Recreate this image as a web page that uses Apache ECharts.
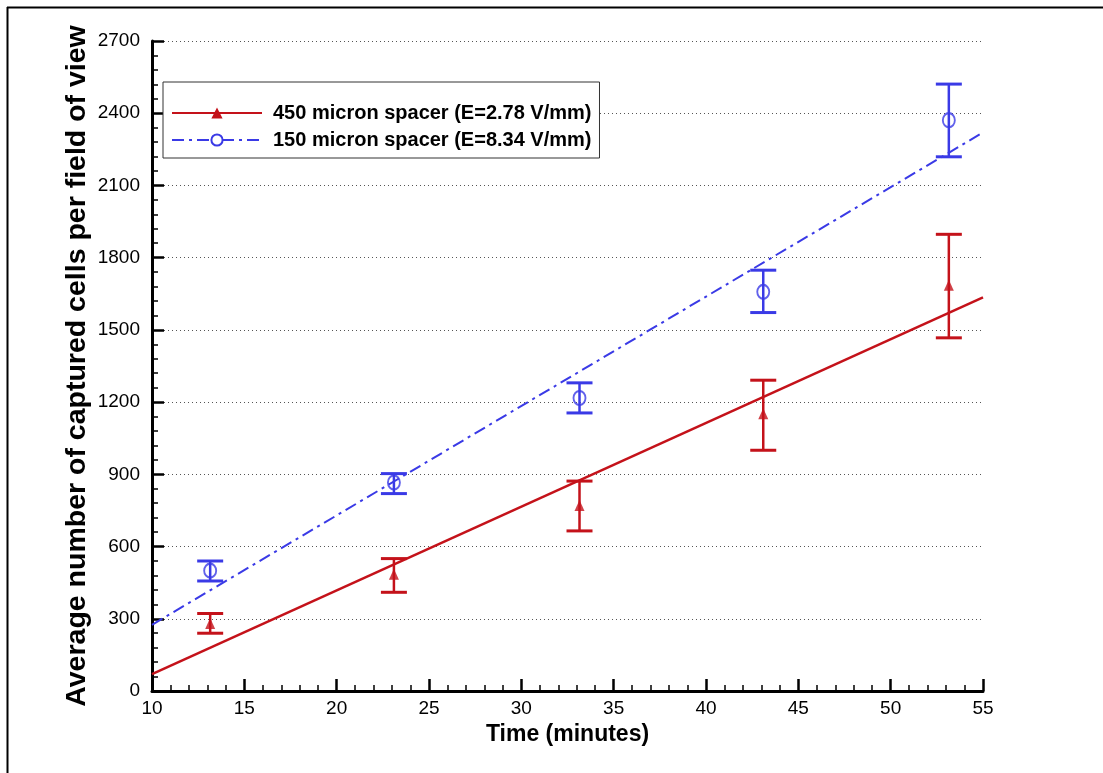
<!DOCTYPE html>
<html><head><meta charset="utf-8">
<script src="https://cdn.jsdelivr.net/npm/echarts@6/dist/echarts.min.js"></script>
<style>html,body{margin:0;padding:0;background:#fff}#c{width:1103px;height:773px}</style>
</head><body><div id="c"></div>
<script>
const times = [13.15, 23.1, 33.15, 43.1, 53.15];
const redMean = [280, 485, 771, 1152, 1685];
const redLow = [240, 410, 665, 1000, 1467];
const redHigh = [322, 550, 872, 1291, 1897];
const blueMean = [500, 866, 1217, 1658, 2371];
const blueLow = [457, 820, 1155, 1572, 2219];
const blueHigh = [540, 903, 1280, 1748, 2521];
const fitX = [10, 55];
const redFit = [70, 1635];
const blueFit = [275, 2320];
const redName = '450 micron spacer (E=2.78 V/mm)';
const blueName = '150 micron spacer (E=8.34 V/mm)';
const RED = '#c4121a';
const BLUE = '#3a3ae6';
const FONT = '"Liberation Sans", Arial, sans-serif';

function errRender(color) {
  return function (params, api) {
    const x = api.value(0);
    const p1 = api.coord([x, api.value(1)]);
    const p2 = api.coord([x, api.value(2)]);
    const w = 13;
    return {
      type: 'group',
      children: [
        { type: 'line', shape: { x1: p1[0], y1: p1[1], x2: p2[0], y2: p2[1] }, style: { stroke: color, lineWidth: 2.5 } },
        { type: 'line', shape: { x1: p1[0] - w, y1: p1[1], x2: p1[0] + w, y2: p1[1] }, style: { stroke: color, lineWidth: 3 } },
        { type: 'line', shape: { x1: p2[0] - w, y1: p2[1], x2: p2[0] + w, y2: p2[1] }, style: { stroke: color, lineWidth: 3 } }
      ]
    };
  };
}

const chart = echarts.init(document.getElementById('c'), null, { renderer: 'canvas' });
chart.setOption({
  backgroundColor: '#fff',
  animation: false,
  textStyle: { fontFamily: FONT },
  graphic: [
    { type: 'line', shape: { x1: 7.5, y1: 7, x2: 7.5, y2: 773 }, style: { stroke: '#000', lineWidth: 2 } },
    { type: 'line', shape: { x1: 7, y1: 7.5, x2: 1103, y2: 7.5 }, style: { stroke: '#000', lineWidth: 2 } }
  ],
  grid: { left: 152, right: 120, top: 41, bottom: 82, containLabel: false },
  legend: {
    orient: 'vertical', left: 163, top: 82,
    data: [redName, blueName],
    backgroundColor: '#fff',
    borderColor: '#333', borderWidth: 1,
    padding: [21, 8, 8, 8],
    itemWidth: 90, itemHeight: 14, itemGap: 7,
    textStyle: { fontFamily: FONT, fontSize: 20, fontWeight: 'bold', color: '#000', padding: [0, 0, 0, 6] }
  },
  xAxis: {
    type: 'value', min: 10, max: 55, interval: 5,
    name: 'Time (minutes)', nameLocation: 'middle', nameGap: 32, nameMoveOverlap: false,
    nameTextStyle: { fontFamily: FONT, fontSize: 23, fontWeight: 'bold', color: '#000' },
    axisLine: { lineStyle: { color: '#000', width: 3 } },
    axisTick: { inside: true, length: 12, lineStyle: { color: '#000', width: 2.5 } },
    minorTick: { show: true, splitNumber: 5, length: 6, lineStyle: { color: '#000', width: 1.5 } },
    axisLabel: { fontFamily: FONT, fontSize: 19, color: '#000', margin: 8 },
    splitLine: { show: false }
  },
  yAxis: {
    type: 'value', min: 0, max: 2700, interval: 300,
    name: 'Average number of captured cells per field of view', nameLocation: 'middle', nameGap: 60, nameMoveOverlap: false,
    nameTextStyle: { fontFamily: FONT, fontSize: 28.5, fontWeight: 'bold', color: '#000' },
    axisLine: { show: true, lineStyle: { color: '#000', width: 3 } },
    axisTick: { inside: true, length: 12, lineStyle: { color: '#000', width: 2.5 } },
    minorTick: { show: true, splitNumber: 5, length: 6, lineStyle: { color: '#000', width: 1.5 } },
    axisLabel: { fontFamily: FONT, fontSize: 19, color: '#000', margin: 12, formatter: v => String(v) },
    splitLine: { show: true, lineStyle: { color: '#555', width: 1, type: [1, 3] } }
  },
  series: [
    {
      name: redName, type: 'line', data: fitX.map((x, i) => [x, redFit[i]]),
      symbol: 'triangle', symbolSize: [10, 10], showSymbol: false,
      itemStyle: { color: RED }, lineStyle: { color: RED, width: 2.5 }, z: 3
    },
    {
      name: blueName, type: 'line', data: fitX.map((x, i) => [x, blueFit[i]]),
      symbol: 'emptyCircle', symbolSize: 12, showSymbol: false,
      itemStyle: { color: BLUE, borderWidth: 2 }, lineStyle: { color: BLUE, width: 2, type: [12, 5, 3, 5] }, z: 3
    },
    {
      name: redName, type: 'custom', renderItem: errRender(RED),
      data: times.map((t, i) => [t, redLow[i], redHigh[i]]), z: 4
    },
    {
      name: blueName, type: 'custom', renderItem: errRender(BLUE),
      data: times.map((t, i) => [t, blueLow[i], blueHigh[i]]), z: 4
    },
    {
      name: redName, type: 'scatter', data: times.map((t, i) => [t, redMean[i]]),
      symbol: 'triangle', symbolSize: [10, 11], itemStyle: { color: RED }, z: 5
    },
    {
      name: blueName, type: 'scatter', data: times.map((t, i) => [t, blueMean[i]]),
      symbol: 'circle', symbolSize: [12, 14],
      itemStyle: { color: 'rgba(0,0,0,0)', borderColor: BLUE, borderWidth: 2 }, z: 5
    }
  ]
});
</script>
</body></html>
